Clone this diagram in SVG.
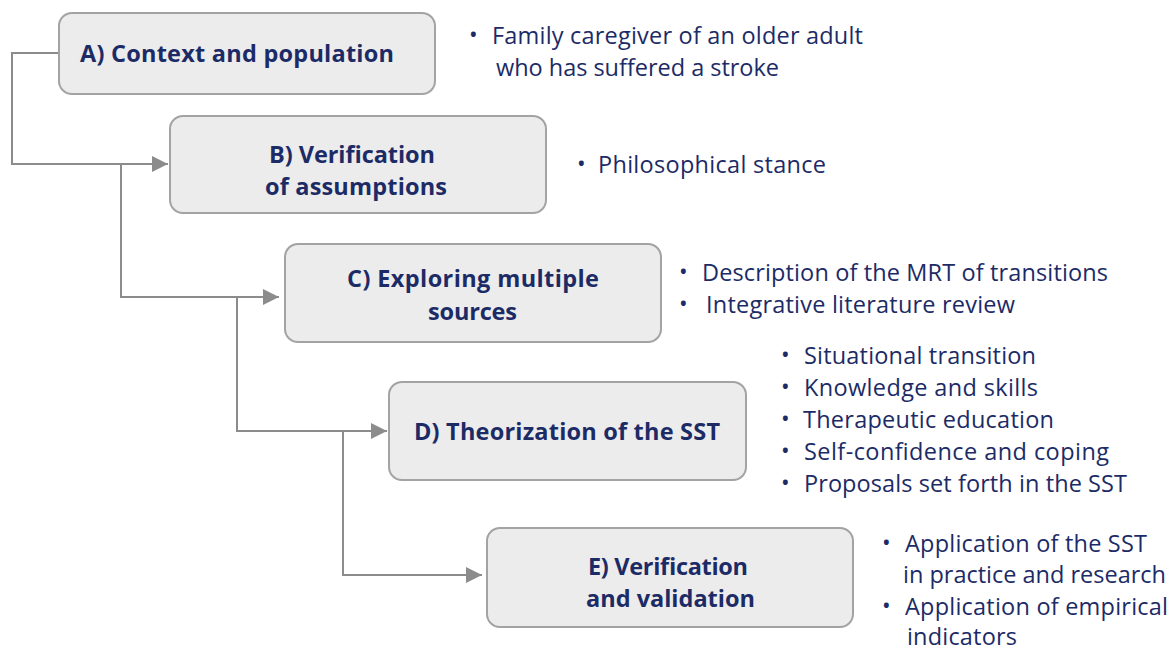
<svg xmlns="http://www.w3.org/2000/svg" width="1175" height="652" viewBox="0 0 1175 652">
<defs>
<style>
.box{fill:#ececec;stroke:#a3a3a3;stroke-width:2}
.t{font-family:"Open Sans","Noto Sans",sans-serif;font-weight:700;font-size:23.5px;fill:#1c2b66}
.r{font-family:"Open Sans","Noto Sans",sans-serif;font-weight:400;font-size:23.5px;fill:#1c2b66}
.b{font-family:"Open Sans","Noto Sans",sans-serif;font-weight:400;font-size:23px;fill:#1c2b66}
.c{fill:none;stroke:#8c8c8c;stroke-width:2}
</style>
<marker id="ah" viewBox="0 0 10 10" refX="10" refY="5" markerWidth="17" markerHeight="16" markerUnits="userSpaceOnUse" orient="auto">
<path d="M0,0 L10,5 L0,10 Z" fill="#8c8c8c"/>
</marker>
</defs>
<rect width="1175" height="652" fill="#ffffff"/>
<g id="connectors">
<path class="c" d="M59,53 H12 V164 H168" marker-end="url(#ah)"/>
<path class="c" d="M121,164 V297 H279" marker-end="url(#ah)"/>
<path class="c" d="M237,297 V431 H387" marker-end="url(#ah)"/>
<path class="c" d="M343,431 V575 H482" marker-end="url(#ah)"/>
</g>
<g id="nodeA">
<rect class="box" x="59" y="13" width="376" height="81" rx="13"/>
<text class="t" x="80" y="62" textLength="314">A) Context and population</text>
</g>
<g id="nodeB">
<rect class="box" x="170" y="116" width="376" height="97" rx="13"/>
<text class="t" x="269" y="163" textLength="166">B) Verification</text>
<text class="t" x="265" y="195" textLength="182">of assumptions</text>
</g>
<g id="nodeC">
<rect class="box" x="285" y="244" width="376" height="98" rx="13"/>
<text class="t" x="347" y="287" textLength="252">C) Exploring multiple</text>
<text class="t" x="428" y="320" textLength="89">sources</text>
</g>
<g id="nodeD">
<rect class="box" x="389" y="382" width="357" height="98" rx="13"/>
<text class="t" x="414" y="440" textLength="306">D) Theorization of the SST</text>
</g>
<g id="nodeE">
<rect class="box" x="487" y="528" width="366" height="99" rx="13"/>
<text class="t" x="588" y="575" textLength="160">E) Verification</text>
<text class="t" x="586" y="607" textLength="169">and validation</text>
</g>
<g id="notesA">
<text class="b" x="469" y="43">•</text>
<text class="r" x="492" y="44" textLength="371">Family caregiver of an older adult</text>
<text class="r" x="496" y="76" textLength="283">who has suffered a stroke</text>
</g>
<g id="notesB">
<text class="b" x="577" y="172">•</text>
<text class="r" x="598" y="173" textLength="228">Philosophical stance</text>
</g>
<g id="notesC">
<text class="b" x="679" y="280">•</text>
<text class="r" x="702" y="281" textLength="406">Description of the MRT of transitions</text>
<text class="b" x="679" y="312">•</text>
<text class="r" x="706" y="313" textLength="309">Integrative literature review</text>
</g>
<g id="notesD">
<text class="b" x="781" y="363">•</text>
<text class="r" x="804" y="364" textLength="232">Situational transition</text>
<text class="b" x="781" y="395">•</text>
<text class="r" x="804" y="396" textLength="234">Knowledge and skills</text>
<text class="b" x="781" y="427">•</text>
<text class="r" x="803" y="428" textLength="251">Therapeutic education</text>
<text class="b" x="781" y="459">•</text>
<text class="r" x="804" y="460" textLength="305">Self-confidence and coping</text>
<text class="b" x="781" y="491">•</text>
<text class="r" x="804" y="492" textLength="323">Proposals set forth in the SST</text>
</g>
<g id="notesE">
<text class="b" x="882" y="551">•</text>
<text class="r" x="905" y="552" textLength="242">Application of the SST</text>
<text class="r" x="903" y="583" textLength="263">in practice and research</text>
<text class="b" x="882" y="614">•</text>
<text class="r" x="905" y="615" textLength="263">Application of empirical</text>
<text class="r" x="907" y="645" textLength="110">indicators</text>
</g>
</svg>
